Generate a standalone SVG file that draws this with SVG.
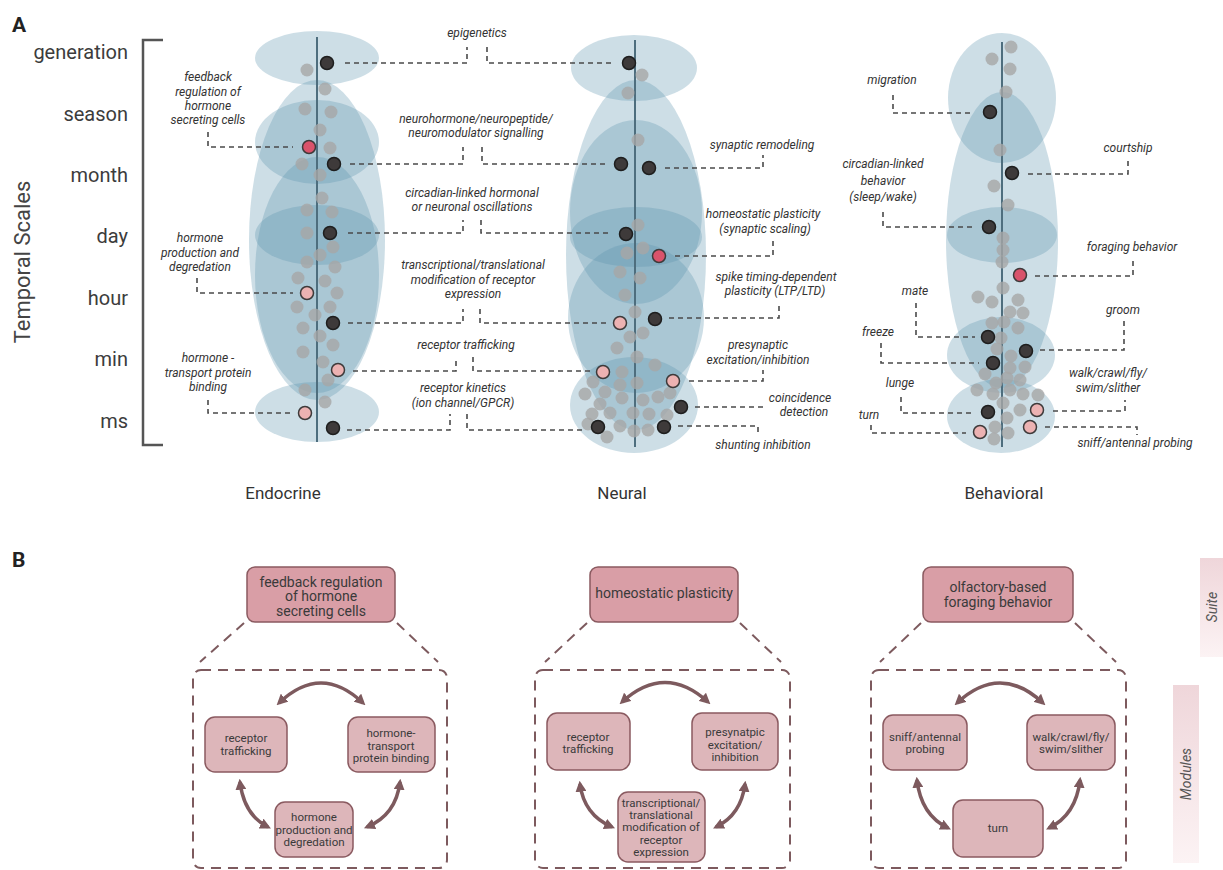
<svg xmlns="http://www.w3.org/2000/svg" width="1223" height="870" viewBox="0 0 1223 870">
<style>
text{font-family:Roboto,"Liberation Sans",Arial,sans-serif;fill:#333}
.lbl{font-style:italic;font-size:12px;text-anchor:middle;fill:#333}
.scale{font-size:20px;text-anchor:end;fill:#3c3c3c}
.col{font-size:17px;text-anchor:middle;fill:#333}
.dash{stroke:#4a4a4a;stroke-width:1.6;stroke-dasharray:5 4;fill:none}
.bl{fill:#5b93ad;fill-opacity:0.3}
.axis{stroke:#4e6e7e;stroke-width:2}
.g{fill:#a6a6a6;fill-opacity:0.8}
.k{fill:#3e3a3a;stroke:#1e1e1e;stroke-width:1.5}
.p{fill:#ecb2b2;stroke:#3e3a3a;stroke-width:1.5}
.r{fill:#d9536b;stroke:#3e3a3a;stroke-width:1.5}
.suite{fill:#d99ea6;stroke:#8a5a60;stroke-width:1.5}
.mod{fill:#ddb6ba;stroke:#8a5a60;stroke-width:1.5}
.st{font-size:14px;text-anchor:middle;fill:#3a3a3a}
.mt{font-size:11.5px;text-anchor:middle;fill:#3a3a3a}
.mbox{fill:none;stroke:#7d5a5e;stroke-width:2;stroke-dasharray:10 7}
.arc{fill:none;stroke:#7d5a5e;stroke-width:3.5;marker-start:url(#ah);marker-end:url(#ah)}
.side{font-style:italic;font-size:14px;text-anchor:middle;fill:#555}
</style>
<defs>
<marker id="ah" viewBox="0 0 10 10" refX="7" refY="5" markerWidth="11" markerHeight="11" markerUnits="userSpaceOnUse" orient="auto-start-reverse"><path d="M0,0 L10,5 L0,10 z" fill="#7d5a5e"/></marker>
<linearGradient id="sg" x1="0" y1="0" x2="0" y2="1"><stop offset="0" stop-color="#efd6da"/><stop offset="1" stop-color="#fcf3f4"/></linearGradient>
</defs>
<rect width="1223" height="870" fill="#fff"/>

<!-- Panel A axis -->
<g id="axis-labels">
<text x="12" y="32" style="font-size:21px;font-weight:bold;fill:#222">A</text>
<text transform="translate(30,262) rotate(-90)" style="font-size:22px;text-anchor:middle;fill:#444">Temporal Scales</text>
<text class="scale" x="128" y="59">generation</text>
<text class="scale" x="128" y="121">season</text>
<text class="scale" x="128" y="182">month</text>
<text class="scale" x="128" y="243">day</text>
<text class="scale" x="128" y="305">hour</text>
<text class="scale" x="128" y="366">min</text>
<text class="scale" x="128" y="428">ms</text>
<path d="M163,40 H143 V445 H163" fill="none" stroke="#555" stroke-width="2.5"/>
</g>

<!-- Endocrine column -->
<g id="endocrine">
<ellipse class="bl" cx="317" cy="58" rx="62" ry="27"/>
<ellipse class="bl" cx="317" cy="240" rx="68" ry="160"/>
<ellipse class="bl" cx="317" cy="142" rx="62" ry="42"/>
<ellipse class="bl" cx="317" cy="275" rx="62" ry="118"/>
<ellipse class="bl" cx="317" cy="235" rx="62" ry="30"/>
<ellipse class="bl" cx="317" cy="412" rx="62" ry="30"/>
<line class="axis" x1="317" y1="37" x2="317" y2="442"/>
<g>
<circle class="g" cx="307" cy="70" r="6.5"/><circle class="g" cx="325" cy="89" r="6.5"/><circle class="g" cx="305" cy="109" r="6.5"/><circle class="g" cx="331" cy="112" r="6.5"/><circle class="g" cx="320" cy="130" r="6.5"/><circle class="g" cx="330" cy="148" r="6.5"/><circle class="g" cx="302" cy="164" r="6.5"/><circle class="g" cx="320" cy="175" r="6.5"/><circle class="g" cx="322" cy="198" r="6.5"/><circle class="g" cx="307" cy="210" r="6.5"/><circle class="g" cx="332" cy="212" r="6.5"/><circle class="g" cx="307" cy="233" r="6.5"/><circle class="g" cx="333" cy="247" r="6.5"/><circle class="g" cx="320" cy="255" r="6.5"/><circle class="g" cx="307" cy="262" r="6.5"/><circle class="g" cx="335" cy="267" r="6.5"/><circle class="g" cx="298" cy="278" r="6.5"/><circle class="g" cx="325" cy="281" r="6.5"/><circle class="g" cx="337" cy="293" r="6.5"/><circle class="g" cx="297" cy="307" r="6.5"/><circle class="g" cx="330" cy="307" r="6.5"/><circle class="g" cx="315" cy="315" r="6.5"/><circle class="g" cx="303" cy="328" r="6.5"/><circle class="g" cx="320" cy="336" r="6.5"/><circle class="g" cx="333" cy="345" r="6.5"/><circle class="g" cx="303" cy="352" r="6.5"/><circle class="g" cx="323" cy="362" r="6.5"/><circle class="g" cx="328" cy="380" r="6.5"/><circle class="g" cx="305" cy="390" r="6.5"/><circle class="g" cx="325" cy="402" r="6.5"/>
</g>
<circle class="k" cx="327" cy="63" r="6.5"/>
<circle class="r" cx="309" cy="147" r="6.5"/>
<circle class="k" cx="334" cy="164" r="6.5"/>
<circle class="k" cx="330" cy="233" r="6.5"/>
<circle class="p" cx="307" cy="293" r="6.5"/>
<circle class="k" cx="333" cy="323" r="6.5"/>
<circle class="p" cx="338" cy="370" r="6.5"/>
<circle class="p" cx="305" cy="413" r="6.5"/>
<circle class="k" cx="333" cy="428" r="6.5"/>
<text class="col" x="283" y="499">Endocrine</text>
</g>

<!-- Neural column -->
<g id="neural">
<ellipse class="bl" cx="634" cy="68" rx="63" ry="33"/>
<ellipse class="bl" cx="636" cy="255" rx="70" ry="175"/>
<ellipse class="bl" cx="636" cy="212" rx="66" ry="92"/>
<ellipse class="bl" cx="636" cy="237" rx="66" ry="30"/>
<ellipse class="bl" cx="636" cy="318" rx="68" ry="75"/>
<ellipse class="bl" cx="634" cy="405" rx="64" ry="48"/>
<line class="axis" x1="635" y1="40" x2="635" y2="447"/>
<g>
<circle class="g" cx="642" cy="75" r="6.5"/><circle class="g" cx="628" cy="93" r="6.5"/><circle class="g" cx="638" cy="140" r="6.5"/><circle class="g" cx="638" cy="225" r="6.5"/><circle class="g" cx="627" cy="253" r="6.5"/><circle class="g" cx="643" cy="248" r="6.5"/><circle class="g" cx="620" cy="272" r="6.5"/><circle class="g" cx="640" cy="278" r="6.5"/><circle class="g" cx="625" cy="295" r="6.5"/><circle class="g" cx="635" cy="312" r="6.5"/><circle class="g" cx="630" cy="337" r="6.5"/><circle class="g" cx="643" cy="333" r="6.5"/><circle class="g" cx="617" cy="348" r="6.5"/><circle class="g" cx="637" cy="357" r="6.5"/><circle class="g" cx="622" cy="372" r="6.5"/><circle class="g" cx="655" cy="365" r="6.5"/>
<circle class="g" cx="593" cy="382" r="6.5"/><circle class="g" cx="620" cy="385" r="6.5"/><circle class="g" cx="637" cy="383" r="6.5"/><circle class="g" cx="585" cy="394" r="6.5"/><circle class="g" cx="605" cy="392" r="6.5"/><circle class="g" cx="622" cy="398" r="6.5"/><circle class="g" cx="643" cy="400" r="6.5"/><circle class="g" cx="658" cy="397" r="6.5"/><circle class="g" cx="670" cy="393" r="6.5"/><circle class="g" cx="600" cy="404" r="6.5"/><circle class="g" cx="592" cy="414" r="6.5"/><circle class="g" cx="610" cy="413" r="6.5"/><circle class="g" cx="633" cy="413" r="6.5"/><circle class="g" cx="649" cy="414" r="6.5"/><circle class="g" cx="667" cy="415" r="6.5"/><circle class="g" cx="588" cy="424" r="6.5"/><circle class="g" cx="620" cy="426" r="6.5"/><circle class="g" cx="634" cy="431" r="6.5"/><circle class="g" cx="648" cy="430" r="6.5"/><circle class="g" cx="607" cy="437" r="6.5"/>
</g>
<circle class="k" cx="629" cy="63" r="6.5"/>
<circle class="k" cx="621" cy="164" r="6.5"/>
<circle class="k" cx="649" cy="168" r="6.5"/>
<circle class="k" cx="626" cy="234" r="6.5"/>
<circle class="r" cx="659" cy="256" r="6.5"/>
<circle class="p" cx="620" cy="323" r="6.5"/>
<circle class="k" cx="655" cy="319" r="6.5"/>
<circle class="p" cx="603" cy="372" r="6.5"/>
<circle class="p" cx="673" cy="381" r="6.5"/>
<circle class="k" cx="681" cy="407" r="6.5"/>
<circle class="k" cx="598" cy="427" r="6.5"/>
<circle class="k" cx="664" cy="427" r="6.5"/>
<text class="col" x="622" y="499">Neural</text>
</g>

<!-- Behavioral column -->
<g id="behavioral">
<ellipse class="bl" cx="1002" cy="98" rx="54" ry="65"/>
<ellipse class="bl" cx="1002" cy="240" rx="56" ry="148"/>
<ellipse class="bl" cx="1002" cy="235" rx="55" ry="28"/>
<ellipse class="bl" cx="1001" cy="355" rx="54" ry="38"/>
<ellipse class="bl" cx="1001" cy="416" rx="54" ry="37"/>
<line class="axis" x1="1002" y1="42" x2="1002" y2="447"/>
<g>
<circle class="g" cx="1011" cy="47" r="6.5"/><circle class="g" cx="992" cy="59" r="6.5"/><circle class="g" cx="1010" cy="69" r="6.5"/><circle class="g" cx="1006" cy="92" r="6.5"/><circle class="g" cx="1000" cy="150" r="6.5"/><circle class="g" cx="994" cy="186" r="6.5"/><circle class="g" cx="1008" cy="205" r="6.5"/><circle class="g" cx="1003" cy="238" r="6.5"/><circle class="g" cx="1003" cy="250" r="6.5"/><circle class="g" cx="1002" cy="262" r="6.5"/><circle class="g" cx="978" cy="297" r="6.5"/><circle class="g" cx="992" cy="302" r="6.5"/><circle class="g" cx="1003" cy="288" r="6.5"/><circle class="g" cx="1018" cy="300" r="6.5"/><circle class="g" cx="1010" cy="312" r="6.5"/><circle class="g" cx="1023" cy="313" r="6.5"/><circle class="g" cx="992" cy="323" r="6.5"/><circle class="g" cx="1004" cy="322" r="6.5"/><circle class="g" cx="1018" cy="328" r="6.5"/><circle class="g" cx="1001" cy="338" r="6.5"/><circle class="g" cx="997" cy="349" r="6.5"/><circle class="g" cx="1011" cy="356" r="6.5"/><circle class="g" cx="1010" cy="368" r="6.5"/><circle class="g" cx="1025" cy="367" r="6.5"/><circle class="g" cx="985" cy="374" r="6.5"/><circle class="g" cx="996" cy="383" r="6.5"/><circle class="g" cx="1007" cy="378" r="6.5"/><circle class="g" cx="1020" cy="380" r="6.5"/><circle class="g" cx="977" cy="390" r="6.5"/><circle class="g" cx="993" cy="394" r="6.5"/><circle class="g" cx="1010" cy="390" r="6.5"/><circle class="g" cx="1023" cy="394" r="6.5"/><circle class="g" cx="1038" cy="395" r="6.5"/><circle class="g" cx="1003" cy="403" r="6.5"/><circle class="g" cx="1020" cy="410" r="6.5"/><circle class="g" cx="1007" cy="418" r="6.5"/><circle class="g" cx="995" cy="427" r="6.5"/><circle class="g" cx="1008" cy="433" r="6.5"/><circle class="g" cx="994" cy="439" r="6.5"/>
</g>
<circle class="k" cx="990" cy="112" r="6.5"/>
<circle class="k" cx="1012" cy="173" r="6.5"/>
<circle class="k" cx="989" cy="227" r="6.5"/>
<circle class="r" cx="1020" cy="275" r="6.5"/>
<circle class="k" cx="988" cy="337" r="6.5"/>
<circle class="k" cx="1026" cy="351" r="6.5"/>
<circle class="k" cx="993" cy="363" r="6.5"/>
<circle class="k" cx="988" cy="412" r="6.5"/>
<circle class="p" cx="1037" cy="410" r="6.5"/>
<circle class="p" cx="1030" cy="427" r="6.5"/>
<circle class="p" cx="980" cy="432" r="6.5"/>
<text class="col" x="1004" y="499">Behavioral</text>
</g>

<!-- Panel A labels -->
<g id="label-feedback"><text class="lbl" x="208" y="81">feedback</text><text class="lbl" x="208" y="96">regulation of</text><text class="lbl" x="208" y="110">hormone</text><text class="lbl" x="208" y="124">secreting cells</text></g>
<g id="label-hormone-production"><text class="lbl" x="200" y="242">hormone</text><text class="lbl" x="200" y="257">production and</text><text class="lbl" x="200" y="271">degredation</text></g>
<g id="label-hormone-transport"><text class="lbl" x="208" y="362">hormone -</text><text class="lbl" x="208" y="377">transport protein</text><text class="lbl" x="208" y="391">binding</text></g>
<g id="label-epigenetics"><text class="lbl" x="477" y="37">epigenetics</text></g>
<g id="label-neurohormone"><text class="lbl" x="476" y="123">neurohormone/neuropeptide/</text><text class="lbl" x="476" y="137">neuromodulator signalling</text></g>
<g id="label-circadian"><text class="lbl" x="472" y="197">circadian-linked hormonal</text><text class="lbl" x="472" y="211">or neuronal oscillations</text></g>
<g id="label-transcriptional"><text class="lbl" x="473" y="269">transcriptional/translational</text><text class="lbl" x="473" y="284">modification of receptor</text><text class="lbl" x="473" y="298">expression</text></g>
<g id="label-receptor-trafficking"><text class="lbl" x="466" y="349">receptor trafficking</text></g>
<g id="label-receptor-kinetics"><text class="lbl" x="463" y="392">receptor kinetics</text><text class="lbl" x="463" y="407">(ion channel/GPCR)</text></g>
<g id="label-synaptic-remodeling"><text class="lbl" x="762" y="149">synaptic remodeling</text></g>
<g id="label-homeostatic"><text class="lbl" x="763" y="218">homeostatic plasticity</text><text class="lbl" x="765" y="233">(synaptic scaling)</text></g>
<g id="label-spike-timing"><text class="lbl" x="776" y="281">spike timing-dependent</text><text class="lbl" x="775" y="295">plasticity (LTP/LTD)</text></g>
<g id="label-presynaptic"><text class="lbl" x="758" y="349">presynaptic</text><text class="lbl" x="758" y="364">excitation/inhibition</text></g>
<g id="label-coincidence"><text class="lbl" x="800" y="402">coincidence</text><text class="lbl" x="804" y="416">detection</text></g>
<g id="label-shunting"><text class="lbl" x="763" y="449">shunting inhibition</text></g>
<g id="label-migration"><text class="lbl" x="892" y="84">migration</text></g>
<g id="label-courtship"><text class="lbl" x="1128" y="152">courtship</text></g>
<g id="label-circadian-behavior"><text class="lbl" x="883" y="168">circadian-linked</text><text class="lbl" x="883" y="185">behavior</text><text class="lbl" x="883" y="201">(sleep/wake)</text></g>
<g id="label-foraging"><text class="lbl" x="1132" y="251">foraging behavior</text></g>
<g id="label-mate"><text class="lbl" x="915" y="295">mate</text></g>
<g id="label-groom"><text class="lbl" x="1123" y="314">groom</text></g>
<g id="label-freeze"><text class="lbl" x="878" y="336">freeze</text></g>
<g id="label-walk"><text class="lbl" x="1108" y="377">walk/crawl/fly/</text><text class="lbl" x="1108" y="392">swim/slither</text></g>
<g id="label-lunge"><text class="lbl" x="900" y="387">lunge</text></g>
<g id="label-turn"><text class="lbl" x="869" y="419">turn</text></g>
<g id="label-sniff"><text class="lbl" x="1135" y="447">sniff/antennal probing</text></g>

<!-- Panel B -->
<g id="panel-b-label"><text x="12" y="567" style="font-size:21px;font-weight:bold;fill:#222">B</text></g>
<g id="suite-endocrine"><rect class="suite" x="247" y="567" width="148" height="55" rx="8"/><text class="st" x="321" y="587">feedback regulation</text><text class="st" x="321" y="601">of hormone</text><text class="st" x="321" y="616">secreting cells</text></g>
<g id="suite-neural"><rect class="suite" x="590" y="567" width="148" height="55" rx="8"/><text class="st" x="664" y="598">homeostatic plasticity</text></g>
<g id="suite-behavioral"><rect class="suite" x="923" y="567" width="150" height="55" rx="8"/><text class="st" x="998" y="592">olfactory-based</text><text class="st" x="998" y="607">foraging behavior</text></g>

<g id="modules-endocrine">
<rect class="mbox" x="193" y="670" width="254" height="198" rx="8"/>
<g id="m-e-receptor"><rect class="mod" x="205" y="717" width="82" height="55" rx="10"/><text class="mt" x="246" y="742">receptor</text><text class="mt" x="246" y="755">trafficking</text></g>
<g id="m-e-transport"><rect class="mod" x="348" y="717" width="87" height="55" rx="10"/><text class="mt" x="391" y="737">hormone-</text><text class="mt" x="391" y="750">transport</text><text class="mt" x="391" y="762">protein binding</text></g>
<g id="m-e-production"><rect class="mod" x="275" y="802" width="78" height="55" rx="10"/><text class="mt" x="314" y="821">hormone</text><text class="mt" x="314" y="834">production and</text><text class="mt" x="314" y="846">degredation</text></g>
</g>
<g id="modules-neural">
<rect class="mbox" x="535" y="670" width="255" height="198" rx="8"/>
<g id="m-n-receptor"><rect class="mod" x="547" y="713" width="83" height="57" rx="10"/><text class="mt" x="588" y="741">receptor</text><text class="mt" x="588" y="753">trafficking</text></g>
<g id="m-n-presynaptic"><rect class="mod" x="692" y="713" width="86" height="57" rx="10"/><text class="mt" x="735" y="736">presynatpic</text><text class="mt" x="735" y="749">excitation/</text><text class="mt" x="735" y="761">inhibition</text></g>
<g id="m-n-transcriptional"><rect class="mod" x="618" y="792" width="87" height="70" rx="10"/><text class="mt" x="661" y="807">transcriptional/</text><text class="mt" x="661" y="819">translational</text><text class="mt" x="661" y="831">modification of</text><text class="mt" x="661" y="844">receptor</text><text class="mt" x="661" y="856">expression</text></g>
</g>
<g id="modules-behavioral">
<rect class="mbox" x="871" y="670" width="255" height="198" rx="8"/>
<g id="m-b-sniff"><rect class="mod" x="883" y="715" width="84" height="55" rx="10"/><text class="mt" x="925" y="741">sniff/antennal</text><text class="mt" x="925" y="753">probing</text></g>
<g id="m-b-walk"><rect class="mod" x="1027" y="715" width="88" height="55" rx="10"/><text class="mt" x="1071" y="741">walk/crawl/fly/</text><text class="mt" x="1071" y="753">swim/slither</text></g>
<g id="m-b-turn"><rect class="mod" x="953" y="800" width="90" height="57" rx="10"/><text class="mt" x="998" y="832">turn</text></g>
</g>

<g id="side-suite"><rect x="1200" y="558" width="23" height="99" fill="url(#sg)"/><text class="side" transform="translate(1217,607) rotate(-90)">Suite</text></g>
<g id="side-modules"><rect x="1173" y="685" width="26" height="178" fill="url(#sg)"/><text class="side" transform="translate(1191,774) rotate(-90)">Modules</text></g>

<!-- Connectors -->
<g id="connectors">
<path class="dash" d="M208,132 V147 H293"/>
<path class="dash" d="M197,278 V293 H293"/>
<path class="dash" d="M208,400 V413 H293"/>
<path class="dash" d="M345,63 H467 V47"/>
<path class="dash" d="M487,47 V63 H614"/>
<path class="dash" d="M350,164 H463 V147"/>
<path class="dash" d="M482,147 V164 H607"/>
<path class="dash" d="M348,233 H463 V220"/>
<path class="dash" d="M481,220 V233 H610"/>
<path class="dash" d="M348,323 H463 V309"/>
<path class="dash" d="M480,309 V323 H606"/>
<path class="dash" d="M353,371 H456 V357"/>
<path class="dash" d="M473,357 V371 H590"/>
<path class="dash" d="M347,430 H450 V414"/>
<path class="dash" d="M467,414 V430 H583"/>
<path class="dash" d="M665,168 H763 V155"/>
<path class="dash" d="M675,256 H773 V240"/>
<path class="dash" d="M669,318 H779 V303"/>
<path class="dash" d="M689,381 H763 V370"/>
<path class="dash" d="M695,407 H765"/>
<path class="dash" d="M678,426 H758 V435"/>
<path class="dash" d="M893,95 V113 H970"/>
<path class="dash" d="M1028,174 H1128 V158"/>
<path class="dash" d="M883,212 V227 H972"/>
<path class="dash" d="M1035,276 H1133 V260"/>
<path class="dash" d="M916,303 V337 H975"/>
<path class="dash" d="M1040,350 H1124 V320"/>
<path class="dash" d="M881,343 V363 H979"/>
<path class="dash" d="M1053,411 H1125 V400"/>
<path class="dash" d="M901,397 V413 H975"/>
<path class="dash" d="M871,425 V433 H966"/>
<path class="dash" d="M1045,427 H1137 V435"/>
<path class="mbox" d="M244,623 L200,662"/>
<path class="mbox" d="M397,623 L438,662"/>
<path class="mbox" d="M587,623 L545,662"/>
<path class="mbox" d="M740,623 L781,662"/>
<path class="mbox" d="M921,623 L880,662"/>
<path class="mbox" d="M1075,623 L1116,662"/>
<path class="arc" d="M279,703 Q321,663 363,703"/>
<path class="arc" d="M240,782 Q244,815 268,827"/>
<path class="arc" d="M400,782 Q396,815 367,827"/>
<path class="arc" d="M622,702 Q665,663 708,702"/>
<path class="arc" d="M580,784 Q584,815 612,827"/>
<path class="arc" d="M745,784 Q741,815 716,827"/>
<path class="arc" d="M957,703 Q1000,663 1043,703"/>
<path class="arc" d="M917,780 Q921,815 948,828"/>
<path class="arc" d="M1080,780 Q1076,815 1049,828"/>
</g>
</svg>
